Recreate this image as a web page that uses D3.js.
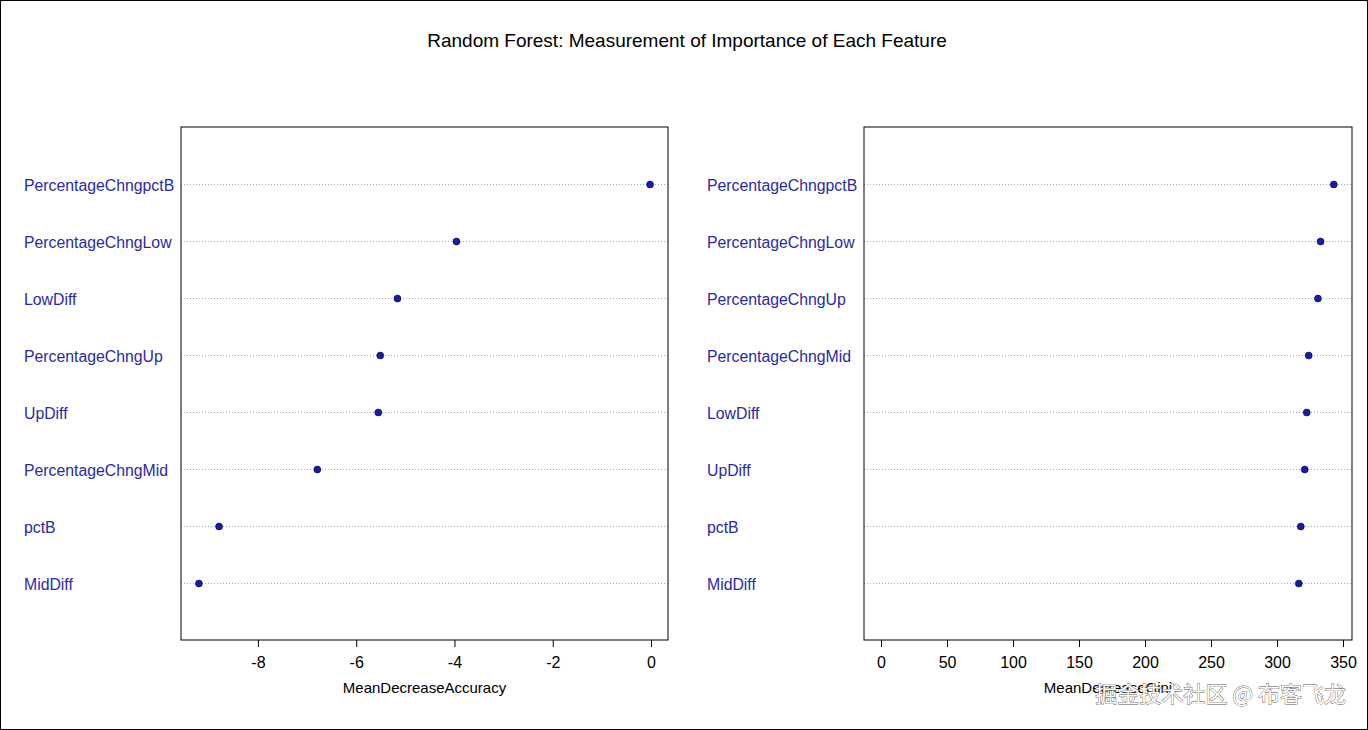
<!DOCTYPE html>
<html><head><meta charset="utf-8">
<script src="https://cdn.jsdelivr.net/npm/d3@7"></script>
<style>body{margin:0;background:#fff}svg{display:block;font-family:"Liberation Sans",Arial,sans-serif}</style>
</head><body><svg id="c" width="1368" height="730"></svg>
<script>
const title = "Random Forest: Measurement of Importance of Each Feature";
const accFeatures = ["PercentageChngpctB","PercentageChngLow","LowDiff","PercentageChngUp","UpDiff","PercentageChngMid","pctB","MidDiff"];
const accValues = [-0.02,-3.96,-5.16,-5.51,-5.55,-6.79,-8.79,-9.2];
const accTicks = [-8,-6,-4,-2,0];
const giniFeatures = ["PercentageChngpctB","PercentageChngLow","PercentageChngUp","PercentageChngMid","LowDiff","UpDiff","pctB","MidDiff"];
const giniValues = [343,333,331,324,322.5,321,318,316.5];
const giniTicks = [0,50,100,150,200,250,300,350];

const svg = d3.select("#c");
svg.append("rect").attr("x",0.5).attr("y",0.5).attr("width",1367).attr("height",729).attr("fill","none").attr("stroke","#000");
svg.append("text").attr("x",687).attr("y",47).attr("text-anchor","middle").attr("font-size",19).text(title);

function panel(x0,x1,labelX,feats,vals,ticks,domain,xlabel){
  const y0=127,y1=640;
  const x=d3.scaleLinear().domain(domain).range([x0,x1]);
  const y=d3.scalePoint().domain(feats).range([184.5,583.5]);
  const g=svg.append("g");
  feats.forEach((f,i)=>{
    g.append("line").attr("x1",x0).attr("x2",x1).attr("y1",y(f)).attr("y2",y(f))
      .attr("stroke","#aaa").attr("stroke-dasharray","1,2");
    g.append("text").attr("x",labelX).attr("y",y(f)+6).attr("font-size",15.8).attr("fill","#2a2aa8").text(f);
    g.append("circle").attr("cx",x(vals[i])).attr("cy",y(f)).attr("r",3.5).attr("fill","#1a1ab0").attr("stroke","#000").attr("stroke-width",0.5);
  });
  g.append("rect").attr("x",x0).attr("y",y0).attr("width",x1-x0).attr("height",y1-y0).attr("fill","none").attr("stroke","#000");
  const ax=g.append("g").attr("transform",`translate(0,${y1})`).call(d3.axisBottom(x).tickValues(ticks).tickSize(7).tickSizeOuter(0).tickFormat(d=>d<0?"-"+Math.abs(d):d));
  ax.select(".domain").remove();
  ax.selectAll("text").attr("font-size",16).attr("dy","1.1em").attr("font-family","Liberation Sans,Arial");
  g.append("text").attr("x",(x0+x1)/2).attr("y",693).attr("text-anchor","middle").attr("font-size",15).text(xlabel);
}
panel(181,668,24,accFeatures,accValues,accTicks,[-9.565,0.345],"MeanDecreaseAccuracy");
panel(864,1352,707,giniFeatures,giniValues,giniTicks,[-12.9,356.8],"MeanDecreaseGini");
svg.append("text").attr("x",1346).attr("y",702).attr("text-anchor","end").attr("font-size",22)
  .attr("font-family","Noto Sans CJK SC").attr("fill","#fff").attr("stroke","#555").attr("stroke-width",0.8)
  .attr("paint-order","stroke").text("掘金技术社区 @ 布客飞龙");
</script></body></html>
